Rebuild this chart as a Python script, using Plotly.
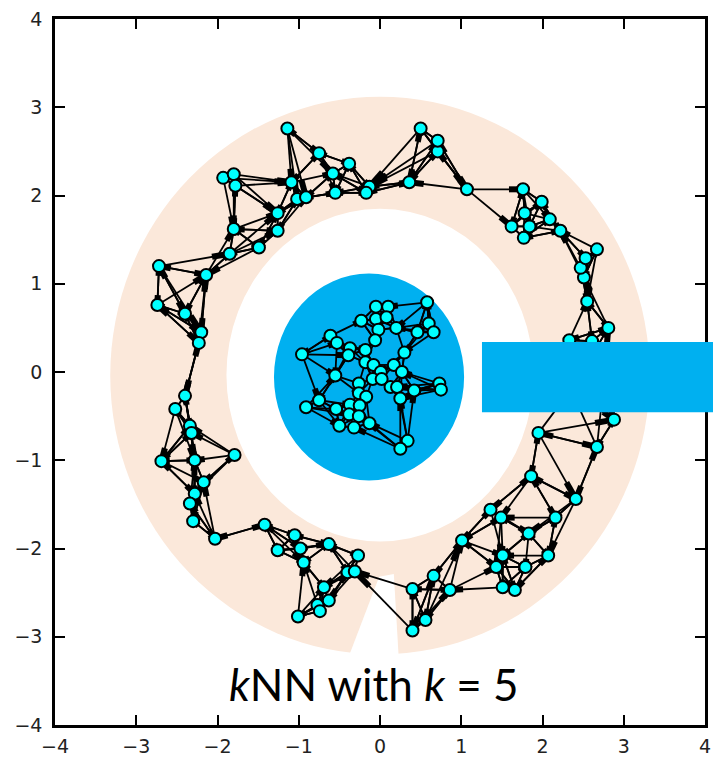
import numpy as np
import plotly.graph_objects as go

# ---------------- data ----------------
ring_x = [-2.40, -2.52, -2.34, -2.32, -2.69, -2.28, -1.79, -2.17, -2.28, -2.34, -2.30, -2.03,
          -1.42, -1.05, -0.98, -1.26, -0.94, -0.63, -0.40, -0.31, -0.27, -0.69, -0.63, -0.77, -0.74, -1.01,
          0.66, 0.40, 0.86, 0.56, 0.40,
          1.01, 1.36, 1.49, 2.16, 1.83, 1.51, 2.07, 1.43, 1.79, 1.51, 1.66, 2.41, 1.86, 1.95, 2.67, 2.88,
          2.35, 2.75, 2.55,
          2.33, 2.61, 2.81, 2.55, 2.51, 2.47, 2.53, 2.67, 2.22, 2.09, 1.77, 1.84, 1.62, 1.78, 1.99, 1.76,
          1.07, 0.71, 0.71, 0.50, 0.36, -0.13, -0.17,
          -0.38, -0.58, -0.75, -1.14, -1.09, -1.02, -0.91, -0.55, -1.26, -1.26, -1.80, -1.49, -1.85,
          -1.93, -1.80, -1.78, -2.72, -2.14, -2.74, -2.40, -2.20, -2.23]
ring_y = [-0.27, -0.42, -0.61, -0.69, -1.01, -1.00, -0.94, -1.25, -1.38, -1.49, -1.69, -1.89,
          -1.73, -1.85, -2.00, -2.02, -2.16, -1.95, -2.27, -2.26, -2.08, -2.44, -2.59, -2.64, -2.71, -2.77,
          -2.31, -2.46, -2.47, -2.81, -2.93,
          -1.91, -1.56, -1.65, -1.65, -1.83, -2.08, -2.08, -2.21, -2.21, -2.44, -2.47, -1.44, -1.18, -0.69, -0.85, -0.54,
          -0.20, -0.15, 0.10,
          0.36, 0.35, 0.50, 0.80, 1.07, 1.18, 1.29, 1.39, 1.60, 1.73, 1.52, 1.65, 1.65, 1.80, 1.93, 2.07,
          2.07, 2.50, 2.62, 2.76, 2.15, 2.10, 2.03,
          2.36, 2.25, 2.48, 2.76, 2.15, 1.96, 1.98, 2.03, 1.80, 1.60, 1.62, 1.41, 1.34,
          2.20, 2.24, 2.11, 1.20, 1.10, 0.76, 0.66, 0.45, 0.33]

center_x = [0.58, 0.60, 0.66, 0.46, 0.20, -0.05, 0.10, -0.23, -0.05, 0.08, -0.02, -0.06, 0.30, -0.18,
            -0.61, -0.53, -0.37, -0.39, -0.96, -0.18, -0.08, 0.01, 0.17, 0.27, -0.55, -0.09, 0.02, -0.26,
            0.13, 0.21, 0.73, 0.75, 0.42, -0.26, -0.17, -0.75, 0.25, -0.91, -0.54, -0.37, -0.25, -0.38,
            -0.26, -0.50, -0.32, -0.13, 0.34, 0.25]
center_y = [0.79, 0.55, 0.45, 0.45, 0.50, 0.74, 0.74, 0.58, 0.60, 0.62, 0.48, 0.36, 0.22, 0.25,
            0.41, 0.33, 0.27, 0.19, 0.20, 0.11, 0.08, 0.00, 0.08, 0.00, -0.04, -0.08, -0.08, -0.13,
            -0.17, -0.17, -0.13, -0.20, -0.21, -0.24, -0.28, -0.32, -0.30, -0.40, -0.42, -0.37, -0.38, -0.48,
            -0.50, -0.61, -0.63, -0.58, -0.78, -0.87]

k_neighbors = 5
label_text = "<i>k</i>NN with <i>k</i> = 5"
tick_values = [-4, -3, -2, -1, 0, 1, 2, 3, 4]

# regions (data units)
annulus_outer = dict(x0=-3.32, x1=3.32, y0=-3.20, y1=3.12)
annulus_inner = dict(x0=-1.89, x1=1.89, y0=-1.92, y1=1.85)
gap_poly_x = [-0.01, 0.17, 0.25, -0.52]
gap_poly_y = [-2.32, -2.29, -3.55, -3.55]
blob = dict(x0=-1.305, x1=1.035, y0=-1.23, y1=1.115)
bar = dict(x0=1.255, y0=-0.455, y1=0.34)

PEACH = "#FBE8DA"
BLUE = "#00B0F0"

# ---------------- kNN graph ----------------
px = np.array(ring_x + center_x)
py = np.array(ring_y + center_y)
P = np.stack([px, py], axis=1)
D = np.sqrt(((P[:, None, :] - P[None, :, :]) ** 2).sum(-1))
np.fill_diagonal(D, np.inf)
nbrs = np.argsort(D, axis=1)[:, :k_neighbors]

ex, ey, hx, hy = [], [], [], []
for i in range(len(P)):
    for j in nbrs[i]:
        ex += [px[i], px[j], None]
        ey += [py[i], py[j], None]
        # thick head segment: last 25% of the edge (networkx style)
        hx += [px[i] + 0.75 * (px[j] - px[i]), px[j], None]
        hy += [py[i] + 0.75 * (py[j] - py[i]), py[j], None]

fig = go.Figure()
fig.add_trace(go.Scatter(x=ex, y=ey, mode="lines", line=dict(color="black", width=1.8),
                         hoverinfo="skip", showlegend=False))
fig.add_trace(go.Scatter(x=hx, y=hy, mode="lines", line=dict(color="black", width=6),
                         hoverinfo="skip", showlegend=False))
fig.add_trace(go.Scatter(x=px, y=py, mode="markers",
                         marker=dict(size=12, color="#00FFFF", line=dict(color="black", width=2)),
                         hoverinfo="skip", showlegend=False))

shapes = [
    dict(type="circle", xref="x", yref="y", layer="below", fillcolor=PEACH, line=dict(width=0),
         **annulus_outer),
    dict(type="circle", xref="x", yref="y", layer="below", fillcolor="white", line=dict(width=0),
         **annulus_inner),
    dict(type="path", xref="x", yref="y", layer="below", fillcolor="white", line=dict(width=0),
         path="M " + " L ".join(f"{a},{b}" for a, b in zip(gap_poly_x, gap_poly_y)) + " Z"),
    dict(type="circle", xref="x", yref="y", layer="below", fillcolor=BLUE, line=dict(width=0),
         **blob),
]
# bar that runs off the right edge of the axes: convert data coords to paper coordinates
rng = (-4, 4)
to_paper = lambda v: (v - rng[0]) / (rng[1] - rng[0])
shapes.append(dict(type="rect", xref="paper", yref="paper", layer="above", fillcolor=BLUE,
                   line=dict(width=0), x0=to_paper(bar["x0"]), x1=1.05,
                   y0=to_paper(bar["y0"]), y1=to_paper(bar["y1"])))

axis_common = dict(range=[-4, 4], tickmode="array", tickvals=tick_values,
                   ticks="inside", ticklen=10, tickwidth=1.5, tickcolor="black",
                   showline=True, linewidth=2.5, linecolor="black", mirror="ticks",
                   showgrid=False, zeroline=False, automargin=False,
                   tickfont=dict(family="DejaVu Sans", size=19, color="#222222"))

fig.update_layout(
    width=713, height=758,
    margin=dict(l=55, r=8, t=19, b=33),
    paper_bgcolor="white", plot_bgcolor="white",
    shapes=shapes,
    xaxis=dict(**axis_common, ticklabelstandoff=2),
    yaxis=dict(**axis_common, ticklabelstandoff=6),
    annotations=[dict(x=-0.07, y=-3.54, xref="x", yref="y", text=label_text, showarrow=False,
                      xanchor="center", yanchor="middle",
                      font=dict(family="Lato", size=44, color="black"))],
)

fig.write_html("out.html")
